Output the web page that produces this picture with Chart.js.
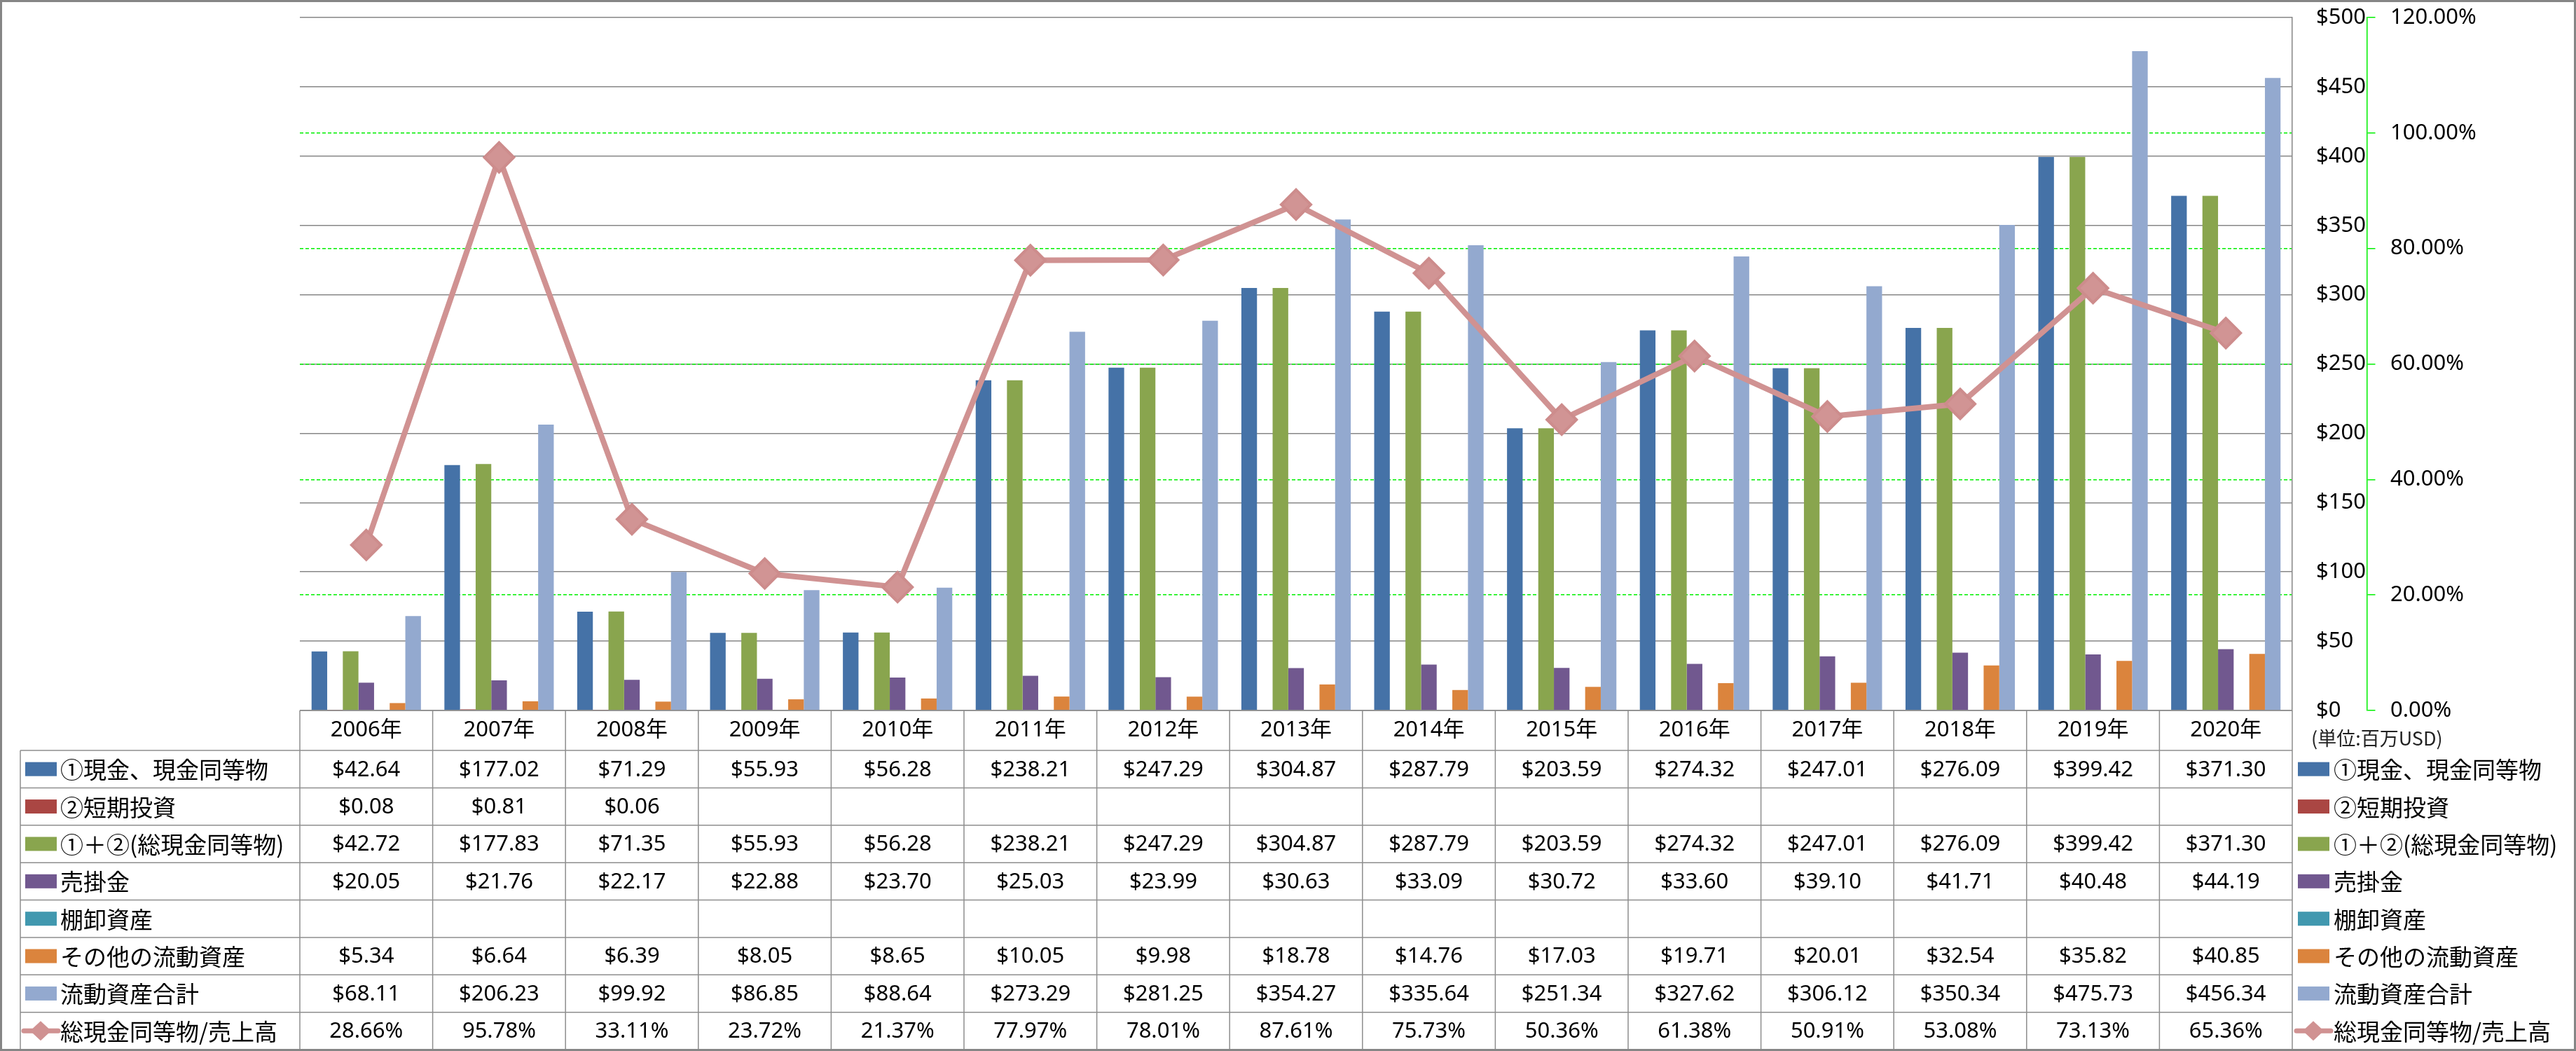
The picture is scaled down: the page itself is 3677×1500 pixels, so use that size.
<!DOCTYPE html>
<html lang="ja">
<head>
<meta charset="UTF-8">
<title>流動資産の推移</title>
<script src="https://cdn.jsdelivr.net/npm/chart.js@4"></script>
<style>
  html, body { margin: 0; padding: 0; background: #fff; overflow: hidden; }
  #wrap { width: 3677px; height: 1500px; position: relative; }
</style>
</head>
<body>
<div id="wrap"><canvas id="chart"></canvas></div>
<script>
// データ (単位: 百万USD)
const years = ['2006年', '2007年', '2008年', '2009年', '2010年', '2011年', '2012年', '2013年',
               '2014年', '2015年', '2016年', '2017年', '2018年', '2019年', '2020年'];
const cash = [42.64, 177.02, 71.29, 55.93, 56.28, 238.21, 247.29, 304.87, 287.79, 203.59, 274.32, 247.01, 276.09, 399.42, 371.30];
const shortInvest = [0.08, 0.81, 0.06, null, null, null, null, null, null, null, null, null, null, null, null];
const totalCash = [42.72, 177.83, 71.35, 55.93, 56.28, 238.21, 247.29, 304.87, 287.79, 203.59, 274.32, 247.01, 276.09, 399.42, 371.30];
const receivables = [20.05, 21.76, 22.17, 22.88, 23.70, 25.03, 23.99, 30.63, 33.09, 30.72, 33.60, 39.10, 41.71, 40.48, 44.19];
const inventory = [null, null, null, null, null, null, null, null, null, null, null, null, null, null, null];
const otherAssets = [5.34, 6.64, 6.39, 8.05, 8.65, 10.05, 9.98, 18.78, 14.76, 17.03, 19.71, 20.01, 32.54, 35.82, 40.85];
const currentAssets = [68.11, 206.23, 99.92, 86.85, 88.64, 273.29, 281.25, 354.27, 335.64, 251.34, 327.62, 306.12, 350.34, 475.73, 456.34];
const cashToSales = [28.66, 95.78, 33.11, 23.72, 21.37, 77.97, 78.01, 87.61, 75.73, 50.36, 61.38, 50.91, 53.08, 73.13, 65.36];

const moneyTicks = [0, 50, 100, 150, 200, 250, 300, 350, 400, 450, 500];
const ratioTicks = [0, 20, 40, 60, 80, 100, 120];

const barNames = ['①現金、現金同等物', '②短期投資', '①＋②(総現金同等物)', '売掛金', '棚卸資産', 'その他の流動資産', '流動資産合計'];
const barData = [cash, shortInvest, totalCash, receivables, inventory, otherAssets, currentAssets];
const barColors = ['#4572A7', '#AA4643', '#89A54E', '#71588F', '#4198AF', '#DB843D', '#93A9CF'];
const lineName = '総現金同等物/売上高';
const lineColor = '#D09292';

const NUM_FONT = "31px 'Noto Sans', 'Noto Sans CJK JP', sans-serif";
const JP_FONT = "33px 'Noto Sans CJK JP', sans-serif";
const GRID = '#878787';
const GREEN = '#00F000';

function money(v) { return v == null ? '' : '$' + v.toFixed(2); }
function pct(v) { return v == null ? '' : v.toFixed(2) + '%'; }

// 凡例キー
function drawKey(ctx, x, y, i) {
  if (i < barColors.length) {
    ctx.fillStyle = barColors[i];
    ctx.fillRect(x, y - 10, 45, 20);
  } else {
    ctx.strokeStyle = lineColor;
    ctx.lineWidth = 7;
    ctx.lineCap = 'round';
    ctx.beginPath();
    ctx.moveTo(x - 2, y);
    ctx.lineTo(x + 47, y);
    ctx.stroke();
    ctx.fillStyle = lineColor;
    ctx.beginPath();
    ctx.moveTo(x + 22, y - 14);
    ctx.lineTo(x + 37, y);
    ctx.lineTo(x + 22, y + 14);
    ctx.lineTo(x + 7, y);
    ctx.closePath();
    ctx.fill();
  }
}

// データテーブル + 右側凡例
const tablePlugin = {
  id: 'dataTable',
  afterDraw(chart) {
    const ctx = chart.ctx;
    const area = chart.chartArea;
    const xs = chart.scales.x;
    const n = years.length;
    const colW = (area.right - area.left) / n;
    const top = area.bottom;
    const headBottom = top + 57;
    const bottom = 1498;
    const labels = barNames.concat([lineName]);
    const rowData = barData.concat([cashToSales]);
    const rowH = (bottom - headBottom) / labels.length;
    const tableLeft = 29;

    ctx.save();
    ctx.strokeStyle = '#8E8E8E';
    ctx.lineWidth = 1.5;
    ctx.beginPath();
    ctx.moveTo(area.left, top);
    ctx.lineTo(area.right, top);
    for (let r = 0; r <= labels.length; r++) {
      const y = headBottom + r * rowH;
      ctx.moveTo(tableLeft, y);
      ctx.lineTo(area.right, y);
    }
    ctx.moveTo(tableLeft, headBottom);
    ctx.lineTo(tableLeft, bottom);
    for (let c = 0; c <= n; c++) {
      const x = area.left + c * colW;
      ctx.moveTo(x, top);
      ctx.lineTo(x, bottom);
    }
    ctx.stroke();

    ctx.fillStyle = '#000';
    ctx.textAlign = 'center';
    ctx.textBaseline = 'middle';
    ctx.font = NUM_FONT;
    years.forEach((yr, i) => {
      ctx.fillText(yr, xs.getPixelForValue(i), (top + headBottom) / 2);
    });

    labels.forEach((name, r) => {
      const cy = headBottom + (r + 0.5) * rowH;
      const fmt = r === labels.length - 1 ? pct : money;
      ctx.font = NUM_FONT;
      ctx.textAlign = 'center';
      ctx.fillStyle = '#000';
      rowData[r].forEach((v, i) => {
        ctx.fillText(fmt(v), xs.getPixelForValue(i), cy + 1);
      });
      // 左の凡例
      drawKey(ctx, 36, cy, r);
      // 右の凡例
      drawKey(ctx, area.right + 8, cy, r);
      ctx.font = JP_FONT;
      ctx.textAlign = 'left';
      ctx.fillStyle = '#000';
      ctx.fillText(name, 86, cy + 1);
      ctx.fillText(name, area.right + 59, cy + 1);
    });

    ctx.font = "27px 'Noto Sans CJK JP', sans-serif";
    ctx.fillStyle = '#222';
    ctx.textAlign = 'left';
    ctx.fillText('(単位:百万USD)', 3299, 1054);

    // 外枠
    ctx.strokeStyle = '#868686';
    ctx.lineWidth = 3;
    ctx.strokeRect(1.5, 1.5, chart.width - 3, chart.height - 3);
    ctx.restore();
  }
};

const datasets = barNames.map((name, i) => ({
  type: 'bar',
  label: name,
  data: barData[i],
  backgroundColor: barColors[i],
  yAxisID: 'y',
  order: 1,
  categoryPercentage: 0.8235,
  barPercentage: 1.0
}));
datasets.push({
  type: 'line',
  label: lineName,
  data: cashToSales,
  yAxisID: 'y1',
  order: 0,
  borderColor: lineColor,
  borderWidth: 8,
  borderJoinStyle: 'round',
  tension: 0,
  pointStyle: 'rectRot',
  pointRadius: 21,
  pointBackgroundColor: '#D19494',
  pointBorderColor: '#CD8C8C',
  pointBorderWidth: 4
});

new Chart(document.getElementById('chart'), {
  type: 'bar',
  data: { labels: years, datasets: datasets },
  plugins: [tablePlugin],
  options: {
    responsive: true,
    maintainAspectRatio: false,
    devicePixelRatio: 1,
    animation: false,
    layout: { padding: { left: 428, top: 21, right: 0, bottom: 486 } },
    plugins: { legend: { display: false }, tooltip: { enabled: false } },
    scales: {
      x: { display: false },
      y: {
        position: 'right',
        min: 0, max: 500,
        afterBuildTicks: axis => { axis.ticks = moneyTicks.map(v => ({ value: v })); },
        afterFit: axis => { axis.width = 107; },
        grid: { color: GRID, lineWidth: 1.5, drawTicks: true, tickLength: 34, tickColor: 'rgba(0,0,0,0)' },
        border: { display: true, color: GRID, width: 1.5 },
        ticks: {
          padding: 0,
          color: '#000',
          font: { family: "'Noto Sans', sans-serif", size: 31 },
          callback: v => '$' + v
        }
      },
      y1: {
        position: 'right',
        min: 0, max: 120,
        afterBuildTicks: axis => { axis.ticks = ratioTicks.map(v => ({ value: v })); },
        afterFit: axis => { axis.width = 298; },
        grid: {
          color: c => (c.tick && (c.tick.value === 0 || c.tick.value === 120)) ? 'rgba(0,0,0,0)' : GREEN,
          lineWidth: 1.5,
          drawTicks: true,
          tickLength: 33,
          tickColor: GREEN,
          tickBorderDash: [11, 40]
        },
        border: { display: true, color: GREEN, width: 1.5, dash: [5, 3] },
        ticks: {
          padding: 0,
          color: '#000',
          font: { family: "'Noto Sans', sans-serif", size: 31 },
          callback: v => v.toFixed(2) + '%'
        }
      }
    }
  }
});
</script>
</body>
</html>
